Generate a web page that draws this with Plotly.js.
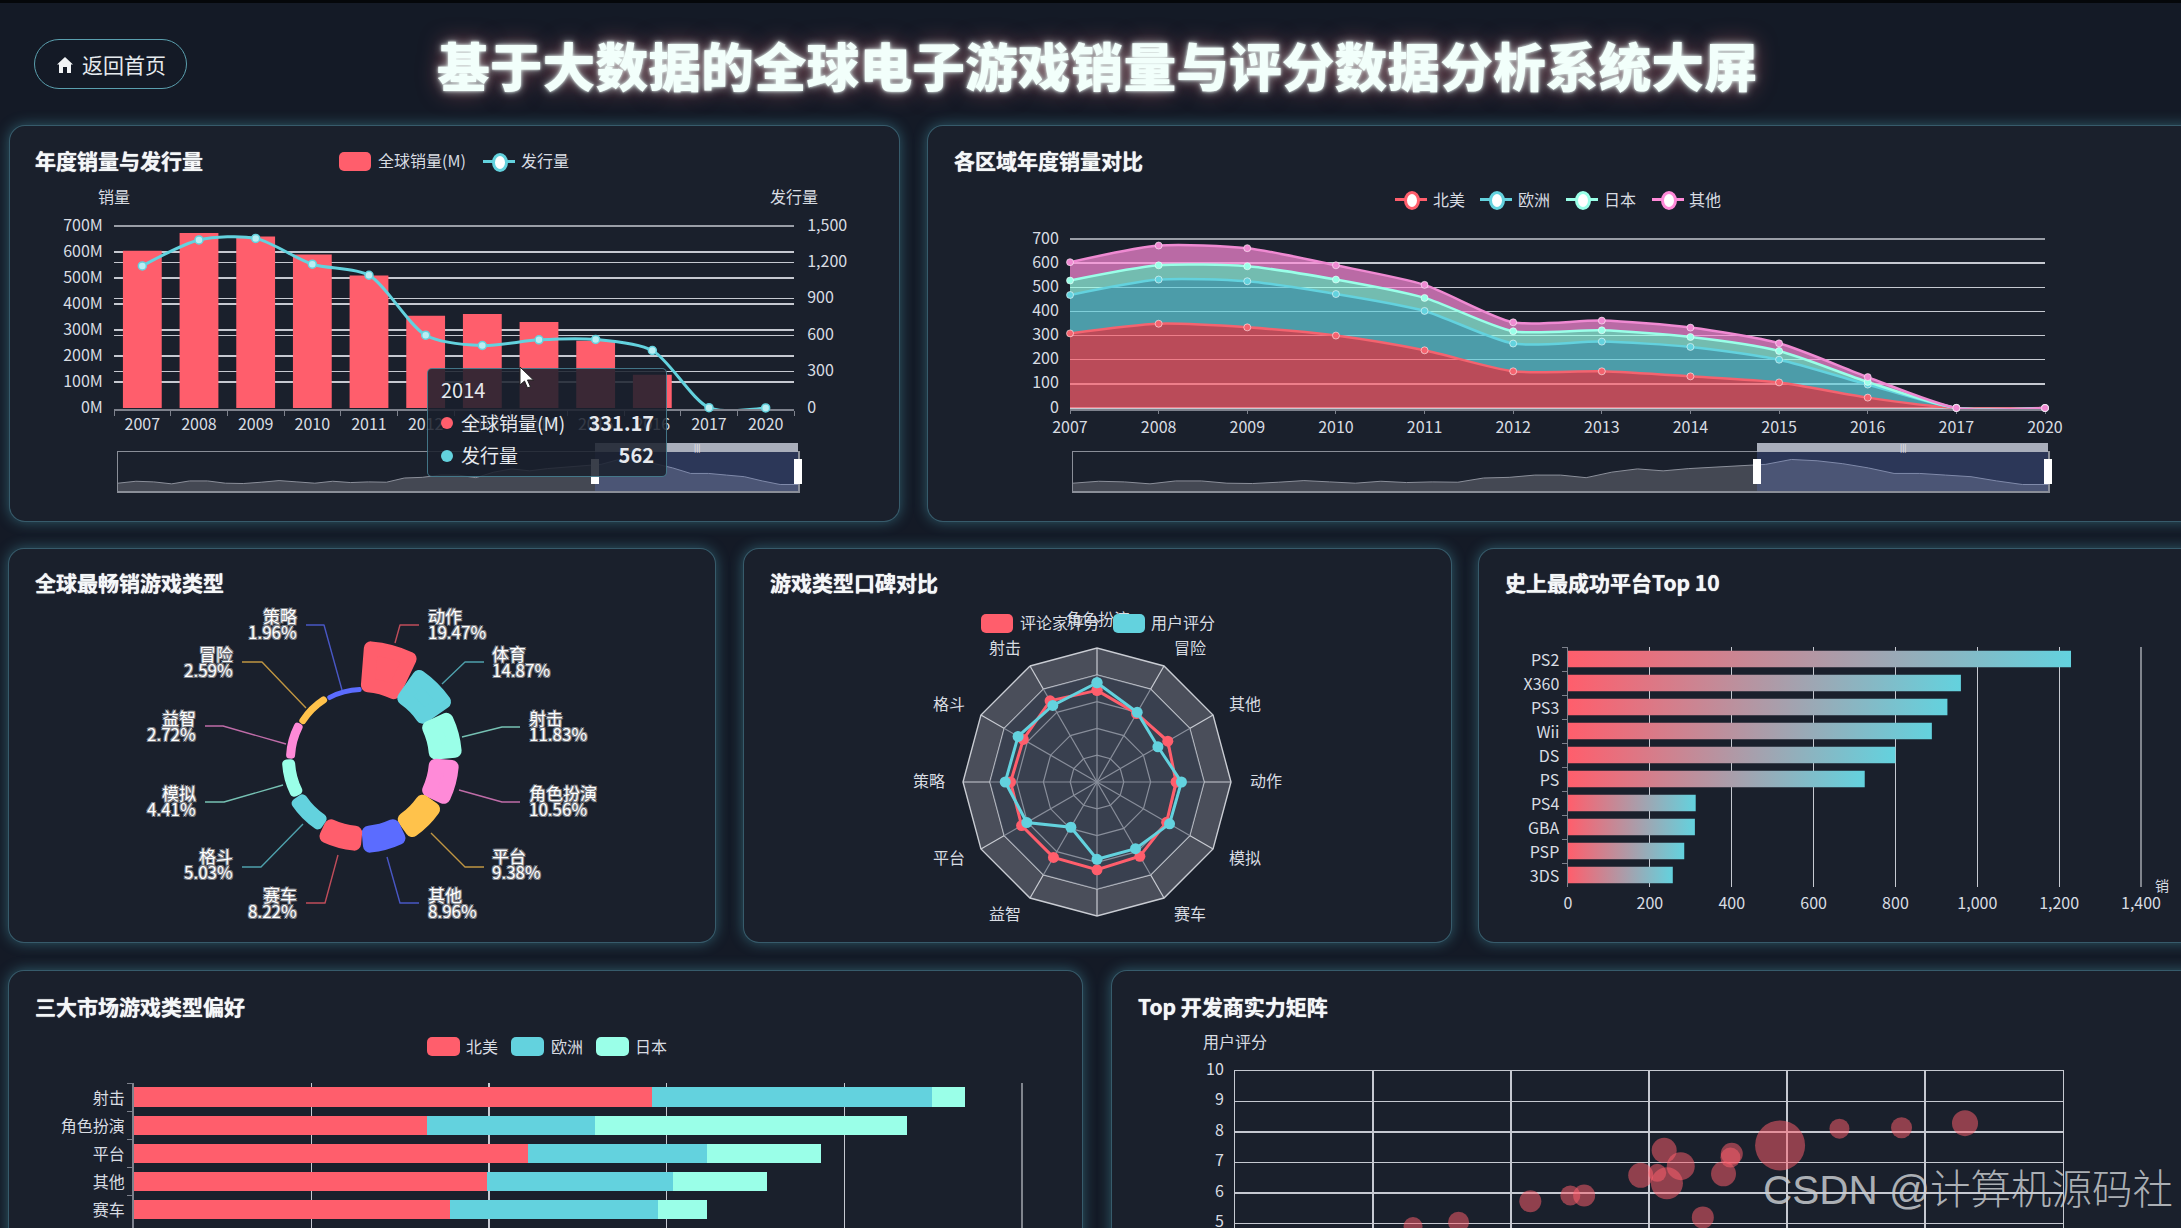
<!DOCTYPE html>
<html lang="zh">
<head>
<meta charset="utf-8">
<title>基于大数据的全球电子游戏销量与评分数据分析系统大屏</title>
<script src="https://cdn.plot.ly/plotly-3.0.1.min.js"></script>
<style>
html,body{margin:0;padding:0;width:2181px;height:1228px;overflow:hidden;background:#141a26;font-family:"Noto Sans CJK SC","Noto Sans",sans-serif;color:#dfe3e8}
#topbar{position:absolute;left:0;top:0;width:2181px;height:3px;background:#05070a}
.card{position:absolute;background:#1a202c;border:1px solid rgba(95,175,195,.42);border-radius:16px;box-shadow:0 0 14px rgba(80,170,190,.45);box-sizing:border-box}
.chart{position:absolute;left:0;top:0;width:2181px;height:1400px}
#c3 path{stroke-linejoin:round}
#pagetitle{position:absolute;left:0;width:2194px;top:27px;text-align:center;font-size:52.8px;line-height:74px;font-weight:900;color:#f2fffb;text-shadow:0 0 3px #f2fffb,0 0 9px rgba(220,255,250,.7),0 0 22px rgba(255,120,130,.5);white-space:nowrap}
#back{position:absolute;left:34px;top:39px;width:153px;height:50px;box-sizing:border-box;border:1px solid #5a9fae;border-radius:25px;font-size:21px;line-height:48px;color:#e6eaee;padding-left:47px}
#back svg{position:absolute;left:21px;top:16px}
.lg{position:absolute;font-size:16px;line-height:20px;color:#d8dce2;white-space:nowrap}
.box{position:absolute;height:19px;border-radius:5px}
.mk{position:absolute;width:32px;height:3px}
.mk i{position:absolute;left:9px;top:-7px;width:10px;height:13px;border-radius:50%;background:#fff;border:3px solid currentColor}
#tip{position:absolute;left:427px;top:368px;width:240px;height:109px;box-sizing:border-box;background:rgba(26,32,44,.86);border:1px solid rgba(95,175,195,.6);border-radius:5px}
#tip div{position:absolute;font-size:19px;line-height:24px;color:#e6e9ee;white-space:nowrap}
#tip .dot{width:12px;height:12px;border-radius:50%}
#tip b{position:absolute;right:2px;top:0;font-size:20px}
#mark{position:absolute;left:1763px;top:1160px;font-size:40.5px;line-height:60px;color:rgba(205,208,212,.82);font-weight:300;white-space:nowrap;font-family:"Liberation Sans","Noto Sans CJK SC",sans-serif}
#cursor{position:absolute;left:519px;top:366px}
</style>
</head>
<body>
<div id="topbar"></div>
<div id="pagetitle">基于大数据的全球电子游戏销量与评分数据分析系统大屏</div>
<div id="back"><svg width="18" height="18" viewBox="0 0 18 18"><path d="M9 1 L17 8.5 L15 8.5 L15 17 L11 17 L11 11 L7 11 L7 17 L3 17 L3 8.5 L1 8.5 Z" fill="#f2f4f6"/></svg>返回首页</div>

<div class="card" style="left:9px;top:125px;width:891px;height:397px"></div>
<div class="card" style="left:927px;top:125px;width:1281px;height:397px"></div>
<div class="card" style="left:8px;top:548px;width:708px;height:395px"></div>
<div class="card" style="left:743px;top:548px;width:709px;height:395px"></div>
<div class="card" style="left:1478px;top:548px;width:731px;height:395px"></div>
<div class="card" style="left:8px;top:970px;width:1075px;height:300px"></div>
<div class="card" style="left:1111px;top:970px;width:1101px;height:300px"></div>

<div id="c1" class="chart"></div>
<div id="c2" class="chart"></div>
<div id="c3" class="chart"></div>
<div id="c4" class="chart"></div>
<div id="c5" class="chart"></div>
<div id="c6" class="chart"></div>
<div id="c7" class="chart"></div>

<!-- legends -->
<div class="box" style="left:339px;top:152px;width:32px;background:#ff5e6c"></div><div class="lg" style="left:378px;top:150px">全球销量(M)</div>
<div class="mk" style="left:483px;top:160px;background:#63d2de;color:#63d2de"><i></i></div><div class="lg" style="left:521px;top:150px">发行量</div>

<div class="mk" style="left:1395px;top:198px;background:#ff5e6c;color:#ff5e6c"><i></i></div><div class="lg" style="left:1433px;top:189px">北美</div>
<div class="mk" style="left:1480px;top:198px;background:#63d2de;color:#63d2de"><i></i></div><div class="lg" style="left:1518px;top:189px">欧洲</div>
<div class="mk" style="left:1566px;top:198px;background:#9affe8;color:#9affe8"><i></i></div><div class="lg" style="left:1604px;top:189px">日本</div>
<div class="mk" style="left:1652px;top:198px;background:#ff8ad8;color:#ff8ad8"><i></i></div><div class="lg" style="left:1689px;top:189px">其他</div>

<div class="box" style="left:981px;top:614px;width:32px;background:#ff5e6c"></div><div class="lg" style="left:1020px;top:612px">评论家评分</div>
<div class="box" style="left:1113px;top:614px;width:32px;background:#63d2de"></div><div class="lg" style="left:1151px;top:612px">用户评分</div>

<div class="box" style="left:427px;top:1037px;width:33px;background:#ff5e6c"></div><div class="lg" style="left:466px;top:1036px">北美</div>
<div class="box" style="left:511px;top:1037px;width:33px;background:#63d2de"></div><div class="lg" style="left:551px;top:1036px">欧洲</div>
<div class="box" style="left:596px;top:1037px;width:33px;background:#9affe8"></div><div class="lg" style="left:635px;top:1036px">日本</div>

<!-- tooltip -->
<div id="tip">
  <div style="left:13px;top:9px;font-size:20px">2014</div>
  <div class="dot" style="left:13px;top:48px;background:#ff5e6c"></div>
  <div style="left:33px;top:42px;width:195px">全球销量(M)<b>331.17</b></div>
  <div class="dot" style="left:13px;top:81px;background:#63d2de"></div>
  <div style="left:33px;top:74px;width:195px">发行量<b>562</b></div>
</div>
<svg id="cursor" width="16" height="24" viewBox="0 0 16 24"><path d="M1 1 L1 19 L5.5 15 L8.5 22 L11.5 20.7 L8.5 14 L14.5 14 Z" fill="#fff" stroke="#222" stroke-width="1"/></svg>
<div id="mark">CSDN @计算机源码社</div>

<script>
// ---------- data ----------
var years = ['2007','2008','2009','2010','2011','2012','2013','2014','2015','2016','2017','2020'];
var globalSales = [605,673,660,590,510,355,362,331.17,259,128,0.3,0.3];
var releases = [1171,1385,1398,1185,1094,600,515,562,565,474,3,1];
var regionNA = [309,349,334,300,239,152,152,131,106,43,0.1,0];
var regionEU = [159,183,191,172,163,115,123,122,94,54,0.1,0];
var regionJP = [60,59,62,60,54,51,47,41,36,11,0.1,0];
var regionOther = [76,82,75,59,54,37,40,39,32,20,0.1,0];
var sliderValues = [24,30,28,22,31,31,24,23,27,32,28,24,30,26,28,27,40,42,49,49,41,58,68,62,69,73,77,82,97,93,84,71,54,54,49,44,31,20,20];
var pieNames = ['动作','体育','射击','角色扮演','平台','其他','赛车','格斗','模拟','益智','冒险','策略'];
var piePercents = ['19.47%','14.87%','11.83%','10.56%','9.38%','8.96%','8.22%','5.03%','4.41%','2.72%','2.59%','1.96%'];
var pieThickness = [51,40,33,30,27,27,25,17,13,9,7,5];
var radarCats = ['角色扮演','冒险','其他','动作','模拟','赛车','体育','益智','平台','策略','格斗','射击'];
var criticScores = [6.84,5.9,6.1,5.9,6.0,6.4,6.55,6.5,6.5,6.45,6.35,7.0];
var userScores = [7.41,6.0,5.25,6.3,6.25,5.75,5.77,3.9,6.05,6.85,6.8,6.6];
var platforms = ['PS2','X360','PS3','Wii','DS','PS','PS4','GBA','PSP','3DS'];
var platformSales = [1229,960,927,889,800,725,312,310,284,256];
var marketGenres = ['射击','角色扮演','平台','其他','赛车'];
var marketNA = [584,330,444,398,356];
var marketEU = [315,189,201,209,234];
var marketJP = [37,352,129,106,56];
var devCritic = [9.29,8.83,8.38,7.95,7.6,7.59,7.54,7.11,7.23,7.13,7.06,6.94,6.53,6.43,6.14,7.39,5.62,5.29];
var devUser = [8.29,8.14,8.11,7.56,7.29,7.16,6.63,7.4,6.88,6.32,6.66,6.58,5.92,5.92,5.73,5.2,5.04,4.9];
var devSales = [26,21,20,50,22,20,25,25,28,32,18,25,22,20,22,22,21,19];

// ---------- style ----------
var W = 2181, H = 1400;
var RED='#ff5e6c', BLUE='#63d2de', MINT='#9affe8', PINK='#ff8ad8', YEL='#ffc24b', IND='#5b6cff';
var TXT='#d8dce2', GRID='#c6c9d1', AX='#7d818c', FONT='"Noto Sans CJK SC","Noto Sans",sans-serif';
var CLEAR='rgba(0,0,0,0)';
function dx(a,b){return [a/W,b/W];}
function dy(t,b){return [1-b/H,1-t/H];}
function px(x){return x/W;}
function py(y){return 1-y/H;}
function base(title,tx,ty){
  return {width:W,height:H,margin:{l:0,r:0,t:0,b:0,pad:0},paper_bgcolor:CLEAR,plot_bgcolor:CLEAR,
    font:{family:FONT,size:16,color:TXT},showlegend:false,hovermode:false,bargap:0.315,
    title:{text:title,x:px(tx),y:py(ty),xref:'paper',yref:'paper',xanchor:'left',yanchor:'middle',automargin:false,
      font:{family:FONT,size:21,weight:700,color:'#f4f7f8',shadow:'0 0 1px #ffffff'}},
    shapes:[],annotations:[]};
}
function note(text,x,y,xa,size,color,extra){
  var a={text:text,x:px(x),y:py(y),xref:'paper',yref:'paper',showarrow:false,xanchor:xa||'center',yanchor:'middle',
    font:{family:FONT,size:size||16,color:color||TXT}};
  if(extra){for(var k in extra){a.font[k]=extra[k];}}
  return a;
}
// the last grid line of an axis sits on the plot edge, where the library leaves it out
function edgeLine(x0,y0,x1,y1,w){
  return {type:'line',layer:'below',xref:'paper',yref:'paper',x0:px(x0),x1:px(x1),y0:py(y0),y1:py(y1),line:{color:GRID,width:w||1.4}};
}
var cfg={displayModeBar:false,staticPlot:true};

// data-zoom strip shared by the two time charts
function addSlider(layout,traces,left,right,top,bottom,selStart){
  layout.xaxis2={domain:dx(left,right),anchor:'y2',range:[0,1],showgrid:false,zeroline:false,showticklabels:false,ticks:'',showline:true,mirror:true,linecolor:'#8a8e98',linewidth:1.5};
  layout.yaxis2={domain:dy(top,bottom),anchor:'x2',range:[0,120],showgrid:false,zeroline:false,showticklabels:false,ticks:'',showline:true,mirror:true,linecolor:'#8a8e98',linewidth:1.5};
  traces.push({type:'scatter',mode:'lines',xaxis:'x2',yaxis:'y2',x:sliderValues.map(function(v,i){return i/(sliderValues.length-1);}),y:sliderValues,
    fill:'tozeroy',fillcolor:'#444853',line:{color:'#8b8f9a',width:1}});
  var x0=px(selStart),x1=px(right);
  layout.shapes.push({type:'rect',layer:'above',xref:'paper',yref:'paper',x0:x0,x1:x1,y0:py(bottom),y1:py(top),fillcolor:'rgba(95,125,215,.26)',line:{width:0}});
  layout.shapes.push({type:'rect',layer:'above',xref:'paper',yref:'paper',x0:x0,x1:x1,y0:py(top),y1:py(top-9),fillcolor:'#a9aebb',line:{width:0}});
  layout.shapes.push({type:'rect',layer:'above',xref:'paper',yref:'paper',x0:px(selStart-4),x1:px(selStart+4),y0:py(top+32),y1:py(top+7),fillcolor:'#ffffff',line:{width:0}});
  layout.shapes.push({type:'rect',layer:'above',xref:'paper',yref:'paper',x0:px(right-4),x1:px(right+4),y0:py(top+32),y1:py(top+7),fillcolor:'#ffffff',line:{width:0}});
  layout.annotations.push(note('|||',(selStart+right)/2,top-4.5,'center',8,'#f0f2f5'));
}

// ---------- 1: annual sales and releases ----------
(function(){
  var l=base('年度销量与发行量',35,162);
  // one pixel of room below zero keeps the line along the baseline from being clipped
  l.xaxis={domain:dx(114,794),anchor:'y',type:'category',layer:'below traces',categoryorder:'array',categoryarray:years,range:[-0.5,11.5],tickson:'boundaries',ticks:'outside',ticklen:5,tickcolor:AX,showline:true,linecolor:AX,linewidth:1.5,showgrid:false,zeroline:false,tickfont:{size:16}};
  l.yaxis={domain:dy(226,409),anchor:'x',range:[-3.85,700],tick0:0,dtick:100,ticksuffix:'M',gridcolor:GRID,gridwidth:1.4,zeroline:false,ticks:'outside',ticklen:7,tickcolor:CLEAR,tickfont:{size:16},ticklabelshift:-1};
  l.yaxis3={domain:dy(226,409),anchor:'x',overlaying:'y',side:'right',range:[-8.24,1500],tick0:0,dtick:300,tickformat:',d',gridcolor:GRID,gridwidth:1.4,showgrid:true,zeroline:false,ticks:'outside',ticklen:9,tickcolor:CLEAR,tickfont:{size:16},ticklabelshift:-1};
  l.annotations.push(note('销量',114,196));
  l.annotations.push(note('发行量',794,196));
  l.shapes.push(edgeLine(114,226,794,226));
  l.shapes.push({type:'line',xref:'x',yref:'paper',x0:'2013',x1:'2013',y0:py(408),y1:py(226),line:{color:'rgba(99,210,222,.7)',width:1,dash:'dash'},layer:'above'});
  var t=[
    {type:'bar',x:years,y:globalSales,marker:{color:RED}},
    {type:'scatter',mode:'lines+markers',x:years,y:releases,yaxis:'y3',cliponaxis:false,line:{color:BLUE,width:3,shape:'spline',smoothing:0.8},marker:{size:8,color:'#b9eef3',line:{color:BLUE,width:1.5}}}
  ];
  addSlider(l,t,118,798,452,491,595);
  Plotly.newPlot('c1',t,l,cfg);
})();

// ---------- 2: regional sales ----------
(function(){
  var l=base('各区域年度销量对比',954,162);
  l.xaxis={domain:dx(1070,2045),anchor:'y',type:'category',layer:'below traces',categoryorder:'array',categoryarray:years,range:[0,11],ticks:'outside',ticklen:3,tickcolor:AX,showline:true,linecolor:AX,linewidth:1.5,showgrid:false,zeroline:false};
  l.yaxis={domain:dy(239,409),anchor:'x',range:[-4.14,700],tick0:0,dtick:100,gridcolor:GRID,gridwidth:1.4,zeroline:false,ticks:'outside',ticklen:7,tickcolor:CLEAR,ticklabelshift:-1};
  l.shapes.push(edgeLine(1070,239,2045,239));
  function s(name,v,c,rgba){return {type:'scatter',mode:'lines+markers',name:name,x:years,y:v,stackgroup:'one',fillcolor:rgba,cliponaxis:false,
    line:{color:c,width:2.5,shape:'spline',smoothing:0.7},marker:{size:7,color:c,line:{color:'rgba(255,255,255,.55)',width:1}}};}
  var t=[
    s('北美',regionNA,'#f4636f','rgba(255,94,108,.7)'),
    s('欧洲',regionEU,BLUE,'rgba(99,210,222,.7)'),
    s('日本',regionJP,MINT,'rgba(154,255,232,.7)'),
    s('其他',regionOther,'#ef8ad2','rgba(255,138,216,.7)')
  ];
  addSlider(l,t,1073,2048,452,491,1757);
  Plotly.newPlot('c2',t,l,cfg);
})();

// ---------- 3: rose pie ----------
(function(){
  var l=base('全球最畅销游戏类型',35,584);
  var cx=362,cy=759,R=135,inner=67;
  var colors=[RED,BLUE,MINT,PINK,YEL,IND,RED,BLUE,MINT,PINK,YEL,IND];
  var strokes=[14,14,14,14,14,14,14,10,9,7,6,4];
  l.polar={domain:{x:dx(cx-R,cx+R),y:dy(cy-R,cy+R)},bgcolor:CLEAR,
    radialaxis:{visible:false,range:[0,R]},
    angularaxis:{visible:false,direction:'clockwise',rotation:90,thetaunit:'degrees'}};
  var theta=pieNames.map(function(n,i){return 15+i*30;});
  var t=[{type:'barpolar',theta:theta,
    base:strokes.map(function(w){return inner+w/2;}),
    r:pieThickness.map(function(th,i){return th-strokes[i];}),
    width:strokes.map(function(w,i){var rm=inner+pieThickness[i]/2;return 30-2*(Math.atan((w/2+0.4)/rm)*180/Math.PI);}),
    marker:{color:colors,line:{color:colors,width:strokes}}}];
  // [leader start, elbow, end, label x, name y, percent y, anchor]
  var leaders=[
    [[395,643],[400,625],[419,625],426,615,631,'left'],
    [[442,684],[465,662],[484,662],490,653,669,'left'],
    [[462,737],[502,727],[520,727],527,717,733,'left'],
    [[459,790],[502,802],[520,802],527,792,808,'left'],
    [[431,833],[465,867],[484,867],490,855,871,'left'],
    [[387,857],[400,903],[419,903],426,894,910,'left'],
    [[338,855],[325,903],[306,903],299,894,910,'right'],
    [[303,824],[261,867],[242,867],235,855,871,'right'],
    [[283,785],[224,802],[205,802],198,792,808,'right'],
    [[286,744],[223,726],[205,726],198,717,733,'right'],
    [[306,708],[262,662],[242,662],235,653,669,'right'],
    [[342,690],[324,625],[306,625],299,615,631,'right']
  ];
  var halo='-1px -1px 0 #7a7d84,1px -1px 0 #7a7d84,-1px 1px 0 #7a7d84,1px 1px 0 #7a7d84';
  leaders.forEach(function(a,i){
    l.shapes.push({type:'path',xref:'paper',yref:'paper',path:'M '+px(a[0][0])+' '+py(a[0][1])+' L '+px(a[1][0])+' '+py(a[1][1])+' L '+px(a[2][0])+' '+py(a[2][1]),
      line:{color:colors[i],width:1.4},opacity:0.72});
    l.annotations.push(note(pieNames[i],a[3],a[4],a[6],17,'#ffffff',{shadow:halo}));
    l.annotations.push(note(piePercents[i],a[3],a[5],a[6],17,'#ffffff',{shadow:halo}));
  });
  Plotly.newPlot('c3',t,l,cfg);
})();

// ---------- 4: radar ----------
(function(){
  var l=base('游戏类型口碑对比',770,584);
  var cx=1097,cy=782,R=134;
  l.polar={domain:{x:dx(cx-R,cx+R),y:dy(cy-R,cy+R)},bgcolor:'#4a4e5a',gridshape:'linear',
    radialaxis:{range:[0,10],tickvals:[2,4,6,8,10],showticklabels:false,ticks:'',showline:false,gridcolor:'#c9ccd3',gridwidth:1.2},
    angularaxis:{type:'category',direction:'clockwise',rotation:90,categoryorder:'array',categoryarray:radarCats,showticklabels:false,
      ticks:'',linecolor:'#c9ccd3',linewidth:1.4,gridcolor:'#c9ccd3',gridwidth:1.2}};
  // axis names sit a fixed way out from each spoke; the bottom spoke has none in the picture
  [['角色扮演',1098,618],['冒险',1190,647],['其他',1245,703],['动作',1266,780],['模拟',1245,857],['赛车',1190,913],
   ['益智',1005,913],['平台',949,857],['策略',929,780],['格斗',949,703],['射击',1005,647]].forEach(function(a){
    l.annotations.push(note(a[0],a[1],a[2]));
  });
  function closed(a){return a.concat([a[0]]);}
  var t=[
    {type:'scatterpolar',mode:'lines',theta:closed(radarCats),r:closed(radarCats.map(function(){return 8;})),fill:'toself',fillcolor:'rgba(32,42,62,.38)',line:{width:0}},
    {type:'scatterpolar',mode:'lines+markers',name:'评论家评分',theta:closed(radarCats),r:closed(criticScores),line:{color:RED,width:3},marker:{size:11,color:RED}},
    {type:'scatterpolar',mode:'lines+markers',name:'用户评分',theta:closed(radarCats),r:closed(userScores),line:{color:BLUE,width:3},marker:{size:11,color:BLUE}}
  ];
  Plotly.newPlot('c4',t,l,cfg);
})();

// ---------- 5: top platforms ----------
(function(){
  var l=base('史上最成功平台Top 10',1505,584);
  l.xaxis={domain:dx(1568,2141),anchor:'y',range:[0,1400],dtick:200,tickformat:',d',gridcolor:GRID,gridwidth:1.2,zeroline:false,ticks:'outside',ticklen:2,tickcolor:CLEAR,showline:false};
  l.yaxis={domain:dy(647,887),anchor:'x',type:'category',categoryorder:'array',categoryarray:platforms,range:[9.5,-0.5],tickson:'boundaries',ticks:'outside',ticklen:5,tickcolor:AX,showline:true,linecolor:AX,linewidth:1.5,showgrid:false,zeroline:false,ticklabelstandoff:4,ticklabelshift:-1};
  l.shapes.push(edgeLine(2141,647,2141,887,1.2));
  l.annotations.push(note('销',2162,885,'center',14,TXT));
  var t=[{type:'bar',orientation:'h',y:platforms,x:platformSales,marker:{color:BLUE}}];
  function paint(){
    var gd=document.getElementById('c5');
    var svg=gd.querySelector('.main-svg');
    if(!svg.querySelector('#barGrad')){
      var NS='http://www.w3.org/2000/svg';
      var g=document.createElementNS(NS,'linearGradient');g.setAttribute('id','barGrad');
      g.setAttribute('x1','0');g.setAttribute('x2','1');g.setAttribute('y1','0');g.setAttribute('y2','0');
      [[0,RED],[1,BLUE]].forEach(function(s){var st=document.createElementNS(NS,'stop');st.setAttribute('offset',s[0]);st.setAttribute('stop-color',s[1]);g.appendChild(st);});
      var d=document.createElementNS(NS,'defs');d.appendChild(g);svg.appendChild(d);
    }
    gd.querySelectorAll('.bars .point path').forEach(function(p){p.style.fill='url(#barGrad)';});
  }
  Plotly.newPlot('c5',t,l,cfg).then(paint);
})();

// ---------- 6: market preference ----------
(function(){
  var l=base('三大市场游戏类型偏好',35,1008);
  l.barmode='stack';
  l.xaxis={domain:dx(133.5,1022),anchor:'y',range:[0,1000],dtick:200,showticklabels:false,gridcolor:GRID,gridwidth:1.2,zeroline:false,ticks:'',showline:false};
  l.yaxis={domain:dy(1083,1252),anchor:'x',type:'category',categoryorder:'array',categoryarray:marketGenres,range:[5.5,-0.5],tickson:'boundaries',ticks:'outside',ticklen:5,tickcolor:AX,showline:true,linecolor:AX,linewidth:1.5,showgrid:false,zeroline:false,ticklabelstandoff:4,ticklabelshift:-1};
  l.shapes.push(edgeLine(1022,1083,1022,1252,1.2));
  var t=[
    {type:'bar',orientation:'h',name:'北美',y:marketGenres,x:marketNA,marker:{color:RED}},
    {type:'bar',orientation:'h',name:'欧洲',y:marketGenres,x:marketEU,marker:{color:BLUE}},
    {type:'bar',orientation:'h',name:'日本',y:marketGenres,x:marketJP,marker:{color:MINT}}
  ];
  Plotly.newPlot('c6',t,l,cfg);
})();

// ---------- 7: developers ----------
(function(){
  var l=base('Top 开发商实力矩阵',1138,1008);
  l.xaxis={domain:dx(1235,2063),anchor:'y',range:[4,10],dtick:1,gridcolor:GRID,gridwidth:1.2,zeroline:false,showline:true,linecolor:GRID,mirror:true,ticks:'',showticklabels:false};
  l.yaxis={domain:dy(1071,1376),anchor:'x',range:[0,10],tickvals:[5,6,7,8,9,10],gridcolor:GRID,gridwidth:1.4,zeroline:false,showline:true,linecolor:GRID,mirror:true,ticks:'outside',ticklen:7,tickcolor:CLEAR,ticklabelshift:-2};
  l.annotations.push(note('用户评分',1235,1041));
  var t=[{type:'scatter',mode:'markers',x:devCritic,y:devUser,marker:{size:devSales,sizemode:'diameter',color:'rgba(255,94,108,.74)',line:{width:0}}}];
  Plotly.newPlot('c7',t,l,cfg);
})();
</script>
</body>
</html>
